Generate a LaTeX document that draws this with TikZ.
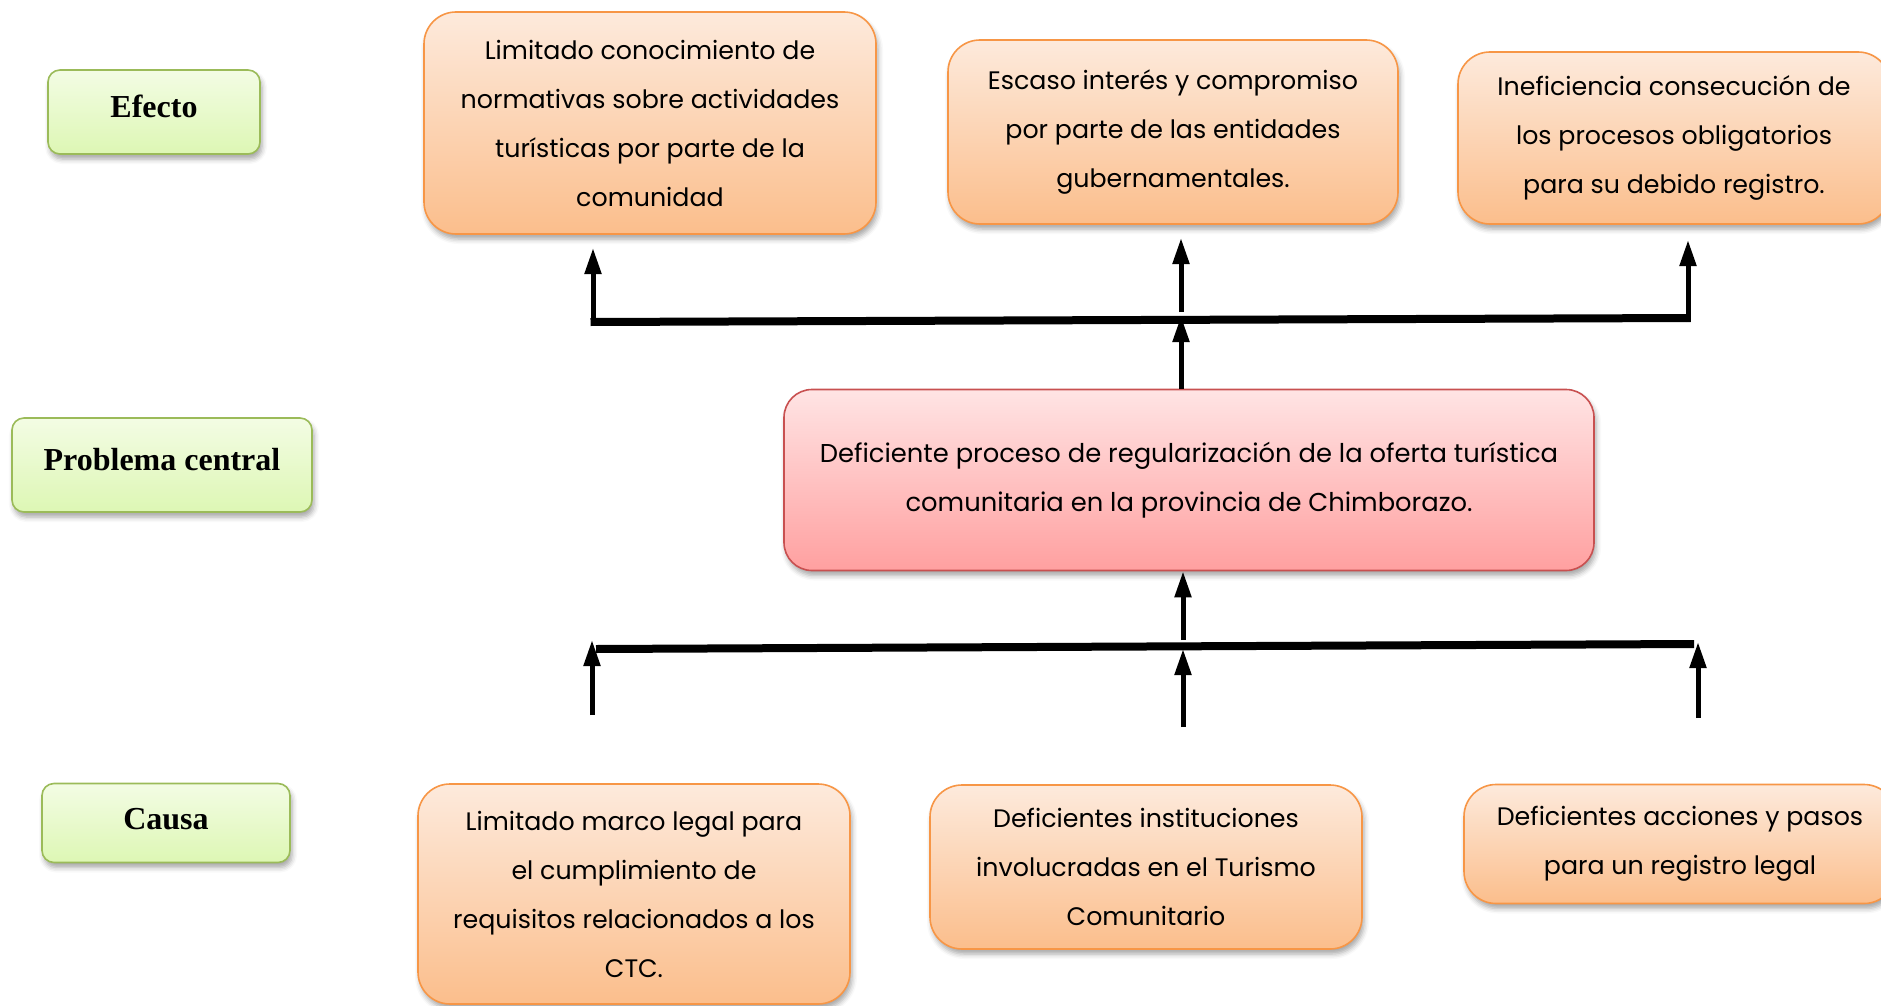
\documentclass[tikz,border=0pt]{standalone}
\usepackage{fontspec}
\setmainfont{Liberation Serif}
\newfontfamily\gothic{Poppins}
\usetikzlibrary{arrows.meta,shadows,shadows.blur}
\definecolor{ocol}{RGB}{247,150,70}
\definecolor{otop}{RGB}{253,234,220}
\definecolor{obot}{RGB}{251,190,140}
\definecolor{rcol}{RGB}{200,80,80}
\definecolor{rtop}{RGB}{255,228,228}
\definecolor{rbot}{RGB}{255,160,160}
\definecolor{gcol}{RGB}{155,187,89}
\definecolor{gtop}{RGB}{243,252,228}
\definecolor{gbot}{RGB}{221,247,180}
\tikzset{
  basebox/.style={rectangle, inner sep=0pt, align=center,
    blur shadow={shadow xshift=2pt, shadow yshift=-5pt, shadow blur radius=5pt, shadow opacity=35}},
  obox/.style={basebox, rounded corners=32pt, draw=ocol, line width=1.6pt,
    top color=otop, bottom color=obot, font={\gothic\fontsize{25.3}{49}\selectfont}},
  rbox/.style={basebox, rounded corners=28pt, draw=rcol, line width=1.6pt,
    top color=rtop, bottom color=rbot, font={\gothic\fontsize{25.8}{49}\selectfont}},
  gbox/.style={basebox, rounded corners=12pt, draw=gcol, line width=1.6pt,
    top color=gtop, bottom color=gbot, font={\bfseries\fontsize{32}{36}\selectfont}},
  bar/.style={line width=8pt, black},
  upar/.style={line width=5pt, black, -{Triangle[length=26pt,width=16pt]}}
}
\begin{document}
\begin{tikzpicture}[x=1pt,y=-1pt]
\useasboundingbox (0,0) rectangle (1881,1006);
% left labels
\node[gbox, minimum width=212pt, minimum height=84pt] (efecto) at (154,112) {\raisebox{12pt}{Efecto}};
\node[gbox, minimum width=300pt, minimum height=94pt] (problema) at (162,465) {\raisebox{11pt}{Problema central}};
\node[gbox, minimum width=248pt, minimum height=79pt] (causa) at (166,823) {\raisebox{8pt}{Causa}};
% effects
\node[obox, minimum width=452pt, minimum height=222pt] (e1) at (650,123)
  {Limitado conocimiento de\\normativas sobre actividades\\turísticas por parte de la\\comunidad};
\node[obox, minimum width=450pt, minimum height=184pt] (e2) at (1173,132)
  {Escaso interés y compromiso\\por parte de las entidades\\gubernamentales.};
\node[obox, minimum width=432pt, minimum height=172pt] (e3) at (1674,138)
  {Ineficiencia consecución de\\los procesos obligatorios\\para su debido registro.};
% central
\node[rbox, minimum width=810pt, minimum height=181pt] (central) at (1189,480)
  {Deficiente proceso de regularización de la oferta turística\\comunitaria en la provincia de Chimborazo.};
% causes
\node[obox, minimum width=432pt, minimum height=220pt] (c1) at (634,894)
  {Limitado marco legal para\\el cumplimiento de\\requisitos relacionados a los\\CTC.};
\node[obox, minimum width=432pt, minimum height=164pt] (c2) at (1146,867)
  {Deficientes instituciones\\involucradas en el Turismo\\Comunitario};
\node[obox, minimum width=432pt, minimum height=119pt] (c3) at (1680,844)
  {Deficientes acciones y pasos\\para un registro legal};
% top connectors
\coordinate (tl) at (593,322);
\coordinate (tr) at (1688,318);
\coordinate (tm) at (1181,320);
\coordinate (tlh) at (593,248);
\coordinate (tmh) at (1181,238);
\coordinate (trh) at (1688,240);
\coordinate (tms) at (1181,312);
\draw[bar] ([xshift=-2.5pt]tl) -- ([xshift=2.5pt]tr);
\draw[upar] ([yshift=-4pt]tl) -- (tlh);
\draw[upar] ([yshift=-4pt]tr) -- (trh);
\draw[upar] (tms) -- (tmh);
\draw[upar] (tm |- central.north) -- (1181,316);
% bottom connectors
\coordinate (bl) at (596,649);
\coordinate (br) at (1694,644);
\coordinate (bm) at (1183,640);
\draw[bar] (bl) -- (br);
\draw[upar] (bm) -- (bm |- central.south);
\coordinate (bls) at (592,715);
\coordinate (bms) at (1183,727);
\coordinate (brs) at (1698,718);
\draw[upar] (bls) -- (592,640);
\draw[upar] (bms) -- (1183,649);
\draw[upar] (brs) -- (1698,642);
\end{tikzpicture}
\end{document}
